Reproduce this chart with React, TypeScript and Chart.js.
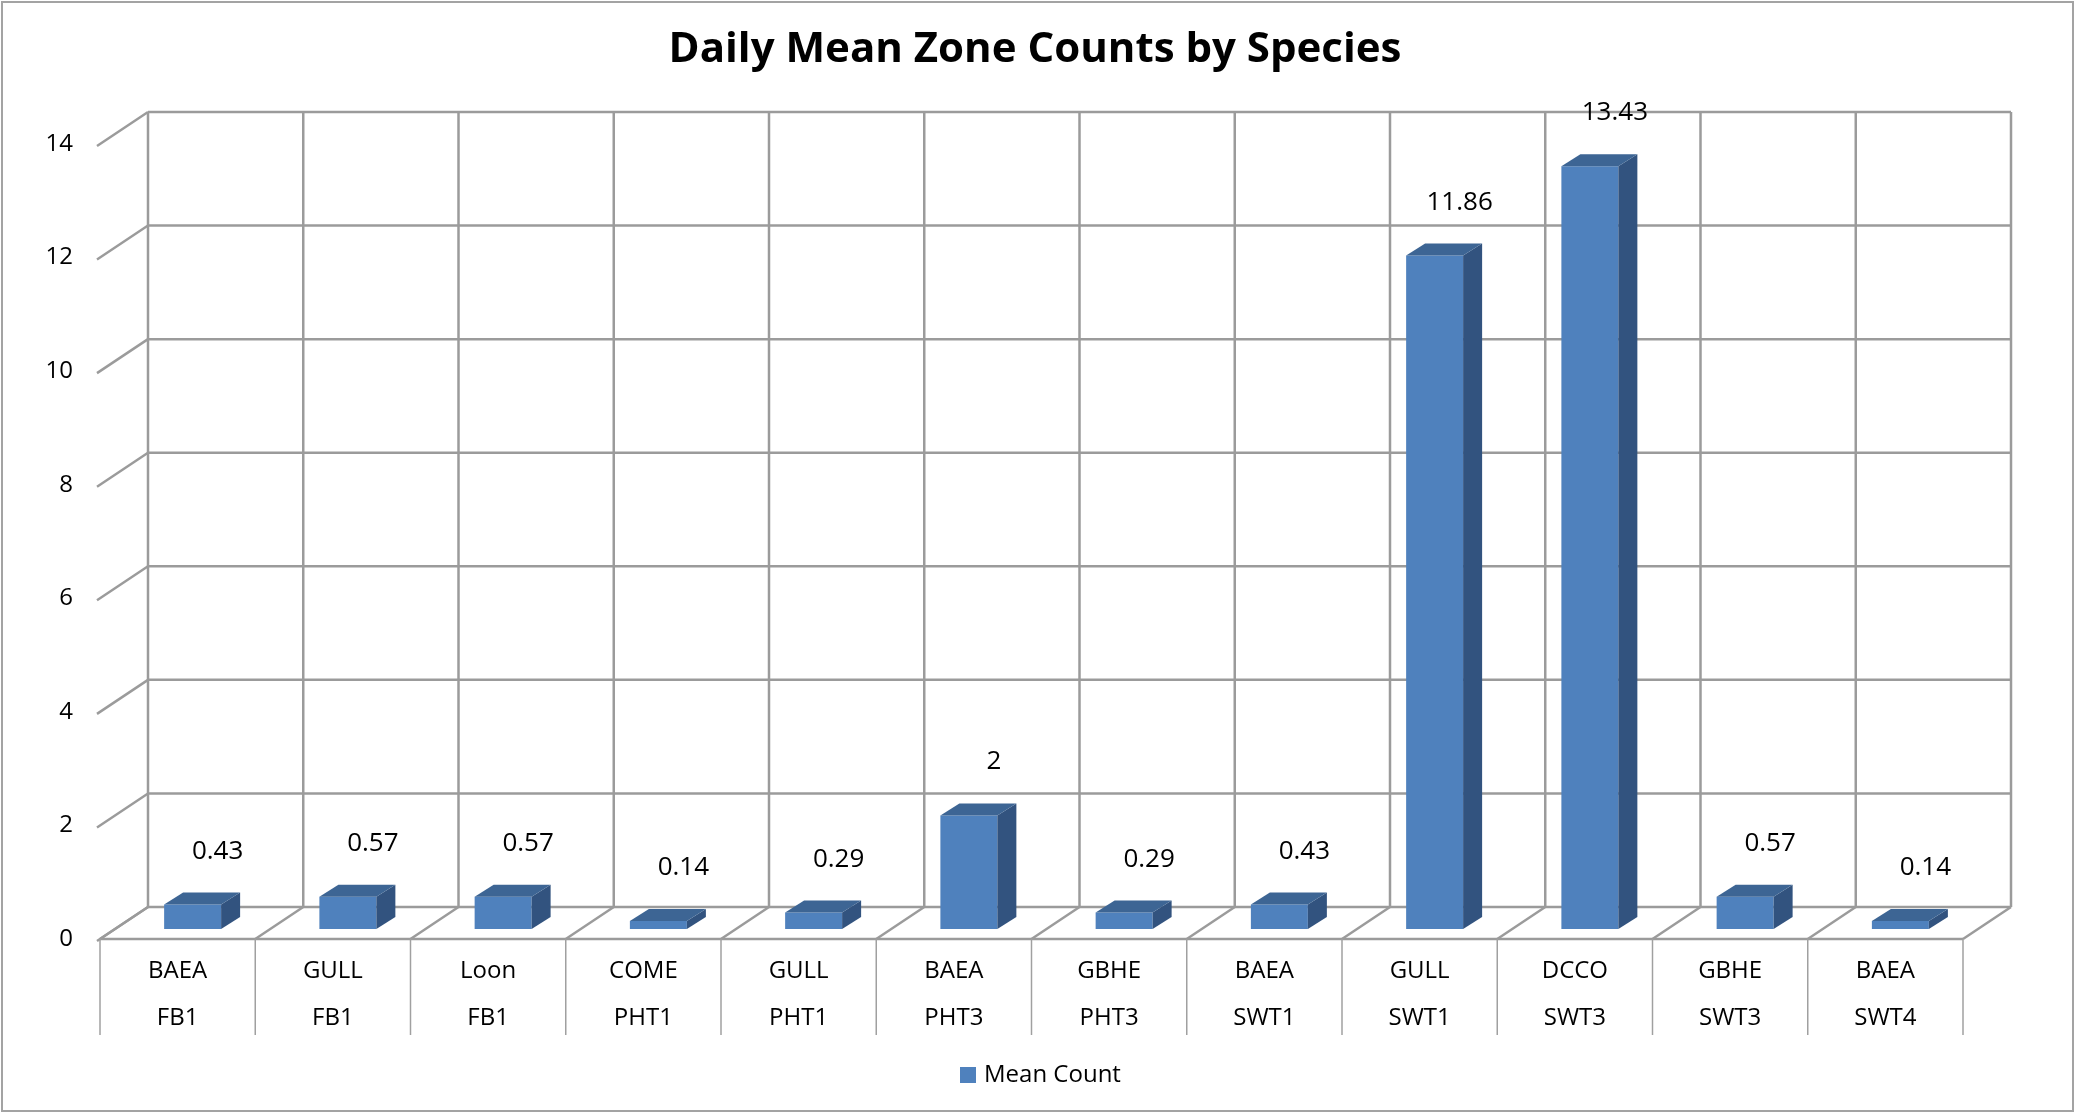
import { useEffect, useRef } from 'react';
import { Chart, registerables } from 'chart.js';

Chart.register(...registerables);

// ---- data ----
const species = ['BAEA', 'GULL', 'Loon', 'COME', 'GULL', 'BAEA', 'GBHE', 'BAEA', 'GULL', 'DCCO', 'GBHE', 'BAEA'];
const zones = ['FB1', 'FB1', 'FB1', 'PHT1', 'PHT1', 'PHT3', 'PHT3', 'SWT1', 'SWT1', 'SWT3', 'SWT3', 'SWT4'];
const meanCounts = [0.43, 0.57, 0.57, 0.14, 0.29, 2, 0.29, 0.43, 11.86, 13.43, 0.57, 0.14];
const seriesName = 'Mean Count';
const chartTitle = 'Daily Mean Zone Counts by Species';
const yMin = 0;
const yMax = 14;
const yStep = 2;

// ---- style ----
const FONT = "'Open Sans', sans-serif";
const FRONT = '#4F81BD';
const SIDE = '#32537F';
const TOP = '#3D6594';
const GRID = '#9b9b9b';
const DEPTH_X = 48;
const DEPTH_Y = -32;
const BAR_SHIFT_X = 15;
const BAR_SHIFT_Y = -10;
const BAR_DX = 19;
const BAR_DY = -12;

const line = (ctx: CanvasRenderingContext2D, x1: number, y1: number, x2: number, y2: number) => {
  ctx.beginPath();
  ctx.moveTo(x1, y1);
  ctx.lineTo(x2, y2);
  ctx.stroke();
};

const poly = (ctx: CanvasRenderingContext2D, pts: number[][]) => {
  ctx.beginPath();
  ctx.moveTo(pts[0][0], pts[0][1]);
  for (let i = 1; i < pts.length; i++) ctx.lineTo(pts[i][0], pts[i][1]);
  ctx.closePath();
  ctx.fill();
};

const excel3d = {
  id: 'excel3d',
  beforeDatasetsDraw(chart: any) {
    const { ctx, chartArea, scales } = chart;
    const xs = scales.x;
    const ys = scales.y;
    const n = chart.data.labels.length;
    const catW = xs.getPixelForValue(1) - xs.getPixelForValue(0);
    const first = xs.getPixelForValue(0) - catW / 2;
    const y0 = ys.getPixelForValue(yMin);
    const yTopBack = ys.getPixelForValue(yMax) + DEPTH_Y;
    const y0Back = y0 + DEPTH_Y;

    ctx.save();
    ctx.strokeStyle = GRID;
    ctx.lineWidth = 2.5;
    // back wall horizontal lines + left wall diagonals
    for (let v = yMin; v <= yMax; v += yStep) {
      const pf = ys.getPixelForValue(v);
      const pb = pf + DEPTH_Y;
      line(ctx, chartArea.left + DEPTH_X, pb, chartArea.right + DEPTH_X, pb);
      line(ctx, chartArea.left - 3, pf + 2, chartArea.left + DEPTH_X, pb);
    }
    // back wall verticals + floor diagonals
    for (let i = 0; i <= n; i++) {
      const bx = first + i * catW;
      line(ctx, bx + DEPTH_X, yTopBack, bx + DEPTH_X, y0Back);
      line(ctx, bx, y0, bx + DEPTH_X, y0Back);
    }
    // floor front edge
    line(ctx, first, y0, first + n * catW, y0);
    // category label dividers
    ctx.lineWidth = 1.5;
    ctx.strokeStyle = '#a0a0a0';
    for (let i = 0; i <= n; i++) {
      const bx = first + i * catW;
      line(ctx, bx, y0, bx, y0 + 96);
    }
    ctx.restore();

    ctx.save();
    ctx.translate(BAR_SHIFT_X, BAR_SHIFT_Y);
  },
  afterDatasetsDraw(chart: any) {
    const { ctx } = chart;
    ctx.restore();
    const meta = chart.getDatasetMeta(0);
    ctx.save();
    meta.data.forEach((bar: any) => {
      const p = bar.getProps(['x', 'y', 'base', 'width'], true);
      const l = p.x - p.width / 2 + BAR_SHIFT_X;
      const r = p.x + p.width / 2 + BAR_SHIFT_X;
      const t = p.y + BAR_SHIFT_Y;
      const b = p.base + BAR_SHIFT_Y;
      ctx.fillStyle = SIDE;
      poly(ctx, [[r, t], [r + BAR_DX, t + BAR_DY], [r + BAR_DX, b + BAR_DY], [r, b]]);
      ctx.fillStyle = TOP;
      poly(ctx, [[l, t], [l + BAR_DX, t + BAR_DY], [r + BAR_DX, t + BAR_DY], [r, t]]);
    });
    ctx.fillStyle = '#000';
    ctx.font = `26px ${FONT}`;
    ctx.textAlign = 'center';
    ctx.textBaseline = 'alphabetic';
    meta.data.forEach((bar: any, i: number) => {
      const p = bar.getProps(['x', 'y'], true);
      ctx.fillText(String(meanCounts[i]), p.x + 40, p.y - 56);
    });
    ctx.restore();
  },
  afterDraw(chart: any) {
    const { ctx } = chart;
    ctx.save();
    // title
    ctx.fillStyle = '#000';
    ctx.font = `bold 42px ${FONT}`;
    ctx.textAlign = 'center';
    ctx.textBaseline = 'alphabetic';
    ctx.fillText(chartTitle, 1035, 62);
    // legend
    ctx.fillStyle = FRONT;
    ctx.fillRect(960, 1067, 16, 16);
    ctx.fillStyle = '#000';
    ctx.font = `24px ${FONT}`;
    ctx.textAlign = 'left';
    ctx.fillText(seriesName, 984, 1082);
    // outer border
    ctx.strokeStyle = '#a3a3a3';
    ctx.lineWidth = 2;
    ctx.strokeRect(2, 2, 2071, 1109);
    ctx.restore();
  },
};

export default function App() {
  const ref = useRef<HTMLCanvasElement | null>(null);
  useEffect(() => {
    document.body.style.margin = '0';
    document.body.style.overflow = 'hidden';
    const canvas = ref.current;
    if (!canvas) return;
    const chart = new Chart(canvas, {
      type: 'bar',
      data: {
        labels: species.map((s, i) => [s, zones[i]]),
        datasets: [
          {
            label: seriesName,
            data: meanCounts,
            backgroundColor: FRONT,
            borderWidth: 0,
            categoryPercentage: 1,
            barPercentage: 0.367,
          },
        ],
      },
      options: {
        animation: false,
        responsive: false,
        devicePixelRatio: 1,
        events: [],
        layout: { padding: { top: 144, left: 10, right: 113, bottom: 75 } },
        plugins: {
          legend: { display: false },
          title: { display: false },
          tooltip: { enabled: false },
        },
        scales: {
          x: {
            grid: { display: false, drawTicks: false },
            border: { display: false },
            ticks: {
              color: '#000',
              padding: 8.5,
              maxRotation: 0,
              autoSkip: false,
              font: { family: FONT, size: 24, lineHeight: '47px' },
            },
            afterFit: (scale: any) => {
              scale.height = 100;
            },
          },
          y: {
            min: yMin,
            max: yMax,
            grid: { display: false, drawTicks: false },
            border: { display: false },
            ticks: {
              stepSize: yStep,
              color: '#000',
              padding: 27,
              font: { family: FONT, size: 24 },
            },
            afterFit: (scale: any) => {
              scale.width = 90;
            },
          },
        },
      },
      plugins: [excel3d],
    });
    return () => chart.destroy();
  }, []);
  return (
    <div style={{ width: 2076, height: 1114, background: '#fff' }}>
      <canvas ref={ref} width={2076} height={1114} style={{ display: 'block' }} />
    </div>
  );
}
